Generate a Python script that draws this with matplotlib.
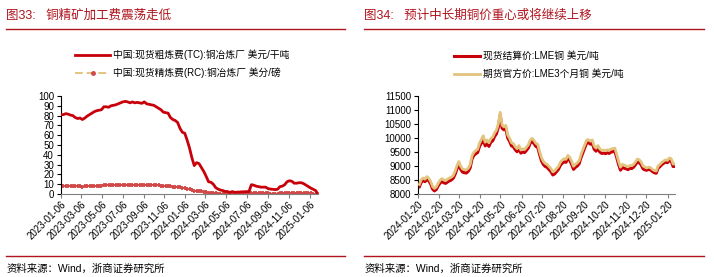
import matplotlib
matplotlib.use("Agg")
import matplotlib.pyplot as plt
from matplotlib.lines import Line2D
import numpy as np
import pandas as pd

plt.rcParams['font.family'] = ['Liberation Sans', 'Noto Sans CJK SC', 'DejaVu Sans']

# ---- left: TC / RC, weekly from 2023-01-06 ----
tc = [81, 81, 82, 81.5, 80.5, 80, 78, 77, 77.5,
      76, 77.5, 79.5, 81, 82.5, 84, 85, 85.5, 86,
      89, 89, 88.5, 90, 90.5, 91, 92, 93, 94,
      94.5, 94, 93, 94, 93, 93.5, 93, 92.5, 94,
      92, 91.5, 91, 90.5, 89, 87.5, 86, 83.5, 83,
      82.5, 78, 76, 75, 73, 67, 63, 62,
      55, 47, 37, 29, 32, 31, 27, 23, 18,
      12.5, 12, 10, 6.5, 5, 4, 3.5, 2.6, 2.5,
      1.5, 2.5, 1.7, 1.9, 2, 2.2, 2.3, 2.4, 2.5,
      9.5, 9, 8, 7.5, 7, 7, 7, 5.5, 5,
      4.8, 4.5, 4.8, 7.5, 8, 9.5, 12.5, 13.5, 13,
      11, 11, 11.5, 11.5, 10.5, 9, 7.5, 6, 4.8,
      3.5, 0]
rc = [8.1, 8.1, 8.2, 8.15, 8.05, 8.0, 7.8, 7.7, 7.75,
      7.6, 7.75, 7.95, 8.1, 8.25, 8.4, 8.5, 8.55, 8.6,
      8.9, 8.9, 8.85, 9.0, 9.05, 9.1, 9.2, 9.3, 9.4,
      9.45, 9.4, 9.3, 9.4, 9.3, 9.35, 9.3, 9.25, 9.4,
      9.2, 9.15, 9.1, 9.05, 8.9, 8.75, 8.6, 8.35, 8.3,
      8.25, 7.8, 7.6, 7.5, 7.3, 6.7, 6.3, 6.2,
      5.5, 4.7, 3.7, 2.9, 3.2, 3.1, 2.7, 2.3, 1.8,
      1.25, 1.2, 1.0, 0.65, 0.5, 0.4, 0.35, 0.26, 0.25,
      0.15, 0.25, 0.17, 0.19, 0.2, 0.22, 0.23, 0.24, 0.25,
      0.95, 0.9, 0.8, 0.75, 0.7, 0.7, 0.7, 0.55, 0.5,
      0.48, 0.45, 0.48, 0.75, 0.8, 0.95, 1.25, 1.35, 1.3,
      1.1, 1.1, 1.15, 1.15, 1.05, 0.9, 0.75, 0.6, 0.48,
      0.35, 0.0]
tc_dates = pd.date_range('2023-01-06', periods=len(tc), freq='7D')
left_ticks = ['2023-01-06', '2023-03-06', '2023-05-06', '2023-07-06', '2023-09-06',
              '2023-11-06', '2024-01-06', '2024-03-06', '2024-05-06', '2024-07-06',
              '2024-09-06', '2024-11-06', '2025-01-06']

# ---- right: LME spot / 3M, 2024-01-22 .. 2025-01-31 ----
spot = [8260, 8420, 8480, 8440, 8530, 8470, 8360, 8180, 8110, 8160, 8290,
        8390, 8450, 8400, 8380, 8430, 8470, 8500, 8560, 8700, 8900, 9050,
        8880, 8780, 8760, 8750, 8810, 8930, 9250, 9380, 9440, 9480, 9700,
        9820, 9950, 9720, 9800, 9700, 9850, 9900, 10050, 10150, 10380, 10820,
        10350, 10290, 10340, 10000, 9880, 9720, 9690, 9580, 9510, 9620, 9460,
        9500, 9480, 9560, 9650, 9820, 9880, 9800, 9700, 9660, 9400, 9180,
        9050, 8980, 8950, 8870, 8800, 8680, 8720, 8800, 8880, 9020, 9100,
        9150, 9130, 9270, 9200, 9060, 8880, 8950, 9000, 9080, 9300, 9480,
        9650, 9820, 9830, 9780, 9820, 9600, 9530, 9620, 9500, 9450, 9460,
        9440, 9470, 9450, 9500, 9510, 9530, 9300, 9050, 8850, 8950, 8920,
        8900, 8870, 8920, 8910, 8960, 9050, 9150, 9120, 9040, 8900, 8860,
        8850, 8880, 8860, 8800, 8760, 8740, 8920, 8980, 9050, 9100, 9140,
        9120, 9200, 9170, 8980, 8990]
fut3m = [8340, 8510, 8570, 8530, 8620, 8560, 8450, 8270, 8200, 8250, 8380,
         8490, 8550, 8500, 8480, 8530, 8570, 8600, 8660, 8810, 9010, 9160,
         8990, 8890, 8870, 8860, 8920, 9040, 9360, 9490, 9550, 9600, 9820,
         9950, 10080, 9850, 9930, 9830, 9980, 10030, 10180, 10280, 10500, 10920,
         10460, 10400, 10450, 10110, 9990, 9830, 9800, 9690, 9620, 9730, 9570,
         9610, 9590, 9670, 9760, 9930, 9990, 9910, 9810, 9770, 9510, 9290,
         9160, 9090, 9060, 8980, 8910, 8790, 8830, 8910, 8990, 9130, 9210,
         9260, 9240, 9380, 9310, 9170, 8990, 9060, 9110, 9190, 9410, 9590,
         9760, 9930, 9940, 9890, 9930, 9710, 9640, 9730, 9610, 9560, 9570,
         9550, 9580, 9560, 9610, 9620, 9640, 9410, 9160, 8960, 9060, 9030,
         9000, 8970, 9020, 9010, 9060, 9150, 9250, 9220, 9140, 9000, 8960,
         8930, 8960, 8940, 8880, 8840, 8820, 9000, 9060, 9130, 9180, 9220,
         9200, 9290, 9260, 9070, 9080]
lme_dates = pd.date_range('2024-01-22', '2025-01-31', periods=len(spot))
right_ticks = ['2024-01-20', '2024-02-20', '2024-03-20', '2024-04-20', '2024-05-20',
               '2024-06-20', '2024-07-20', '2024-08-20', '2024-09-20', '2024-10-20',
               '2024-11-20', '2024-12-20', '2025-01-20']

RED = '#C8000A'
TAN = '#E3C47E'
TITLE_RED = '#B0141E'

fig = plt.figure(figsize=(7.14, 2.77), dpi=100)
W, H = 714, 277


def box(l, t, r, b):
    return [l / W, 1 - b / H, (r - l) / W, (b - t) / H]


def style(ax, ticks):
    for s in ['top', 'right']:
        ax.spines[s].set_visible(False)
    ax.spines['left'].set_color('black')
    ax.spines['left'].set_linewidth(0.8)
    ax.spines['bottom'].set_color('#808080')
    ax.spines['bottom'].set_linewidth(0.8)
    ax.tick_params(axis='y', length=3, width=0.8, labelsize=7, pad=2)
    ax.tick_params(axis='x', length=3, width=0.8, color='#808080', labelsize=7, pad=1)
    tk = pd.to_datetime(ticks)
    ax.set_xticks(tk)
    ax.set_xticklabels(ticks, rotation=45, ha='right', rotation_mode='anchor')


# left panel
ax1 = fig.add_axes(box(61, 96, 318, 194))
ax1.plot(tc_dates, rc, color=TAN, lw=1.4, ls=(0, (4, 2)), marker='+', ms=3.5,
         mec='#D24848', mew=1.3, zorder=2)
ax1.plot(tc_dates, tc, color=RED, lw=2.0, zorder=3)
ax1.set_xlim(tc_dates[0], tc_dates[-1])
ax1.set_ylim(0, 100)
ax1.set_yticks(np.arange(0, 101, 10))
style(ax1, left_ticks)

# right panel
ax2 = fig.add_axes(box(418, 96, 675, 194))
ax2.plot(lme_dates, spot, color=RED, lw=2.2, zorder=2)
ax2.plot(lme_dates, fut3m, color=TAN, lw=2.0, zorder=3)
ax2.set_xlim(pd.Timestamp('2024-01-20'), lme_dates[-1])
ax2.set_ylim(8000, 11500)
ax2.set_yticks(np.arange(8000, 11501, 500))
style(ax2, right_ticks)

# titles, separators, sources
fig.text(6 / W, 1 - 16 / H, '图33:   铜精矿加工费震荡走低', color=TITLE_RED,
         fontsize=9, va='center', ha='left')
fig.text(364 / W, 1 - 16 / H, '图34:   预计中长期铜价重心或将继续上移', color=TITLE_RED,
         fontsize=9, va='center', ha='left')
for x0, x1 in [(6, 345), (364, 704)]:
    fig.add_artist(Line2D([x0 / W, x1 / W], [1 - 29 / H] * 2, color=TITLE_RED, lw=1.0))
    fig.add_artist(Line2D([x0 / W, x1 / W], [1 - 256 / H] * 2, color=TITLE_RED, lw=1.0))
fig.text(7 / W, 1 - 269 / H, '资料来源：Wind，浙商证券研究所', fontsize=7.5, va='center')
fig.text(365 / W, 1 - 269 / H, '资料来源：Wind，浙商证券研究所', fontsize=7.5, va='center')

# legends
fig.add_artist(Line2D([75 / W, 110 / W], [1 - 55 / H] * 2, color=RED, lw=2.0))
fig.text(113 / W, 1 - 55 / H, '中国:现货粗炼费(TC):铜冶炼厂 美元/干吨', fontsize=7, va='center')
fig.add_artist(Line2D([75 / W, 110 / W], [1 - 73 / H] * 2, color=TAN, lw=1.4,
                      ls=(0, (4, 2))))
fig.add_artist(Line2D([92.5 / W], [1 - 73 / H], color='#D24848', marker='o', ms=2.5, lw=0))
fig.text(113 / W, 1 - 73 / H, '中国:现货精炼费(RC):铜冶炼厂 美分/磅', fontsize=7, va='center')

fig.add_artist(Line2D([454 / W, 480 / W], [1 - 56 / H] * 2, color=RED, lw=2.2))
fig.text(483 / W, 1 - 56 / H, '现货结算价:LME铜 美元/吨', fontsize=7, va='center')
fig.add_artist(Line2D([454 / W, 480 / W], [1 - 74 / H] * 2, color=TAN, lw=2.0))
fig.text(483 / W, 1 - 74 / H, '期货官方价:LME3个月铜 美元/吨', fontsize=7, va='center')

fig.savefig('out.png', dpi=100)
